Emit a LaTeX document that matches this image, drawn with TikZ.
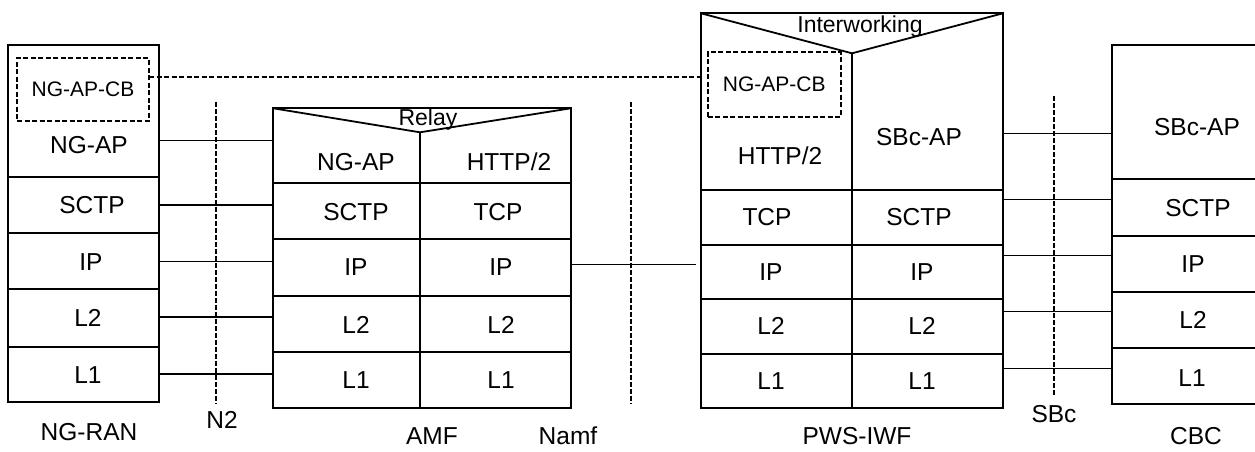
\documentclass[tikz,border=0pt]{standalone}
\usepackage{fontspec}
\setmainfont{Liberation Sans}
\tikzset{
  cell/.style={draw, line width=1.8pt, rectangle, inner sep=0pt, outer sep=0pt, anchor=north west},
  cbbox/.style={draw, line width=2pt, dash pattern=on 5pt off 2.5pt, rectangle, inner sep=0pt, outer sep=0pt, anchor=north west},
  txt/.style={font=\fontsize{24.5}{28}\selectfont, inner sep=0pt},
  small/.style={font=\fontsize{21}{24}\selectfont, inner sep=0pt},
  vtxt/.style={font=\fontsize{23}{26}\selectfont, inner sep=0pt},
  conn/.style={line width=1.3pt},
  peer/.style={line width=2pt, dash pattern=on 5pt off 2.5pt},
  refline/.style={line width=1.7pt, dash pattern=on 5pt off 2pt},
  divider/.style={line width=1.8pt}
}
\newcommand{\mkcell}[5]{\node[cell, minimum width={(#4-#2)*1pt}, minimum height={(#5-#3)*1pt}] (#1) at (#2,#3) {};}
\newcommand{\mkcb}[5]{\node[cbbox, minimum width={(#4-#2)*1pt}, minimum height={(#5-#3)*1pt}] (#1) at (#2,#3) {};}
\begin{document}
\begin{tikzpicture}[x=1pt,y=-1pt]
\useasboundingbox (0,0) rectangle (1255,451);
\clip (0,0) rectangle (1255,451);

% ---------- NG-RAN ----------
\mkcell{ranAP}{8}{45}{159}{176.7}
\mkcell{ranSCTP}{8}{176.7}{159}{233.3}
\mkcell{ranIP}{8}{233.3}{159}{289.3}
\mkcell{ranLtwo}{8}{289.3}{159}{346.7}
\mkcell{ranLone}{8}{346.7}{159}{402}
\mkcb{ranCB}{17}{58.3}{149}{120.7}
\node[small] (tRanCB) at (ranCB.center) {NG-AP-CB};
\node[txt] (tRanAP) at (89,145) {NG-AP};
\node[txt] (tRanSCTP) at (92,205) {SCTP};
\node[txt] (tRanIP) at (91,262) {IP};
\node[txt] (tRanLtwo) at (88,318) {L2};
\node[txt] (tRanLone) at (88,375) {L1};
\node[txt] (lRan) at (89,432) {NG-RAN};

% ---------- AMF ----------
\mkcell{amfTop}{273.3}{108.3}{570.7}{182.7}
\coordinate (amfV) at (420,132.3);
\draw[divider] (amfTop.north west) -- (amfV) -- (amfTop.north east);
\draw[divider] (amfV) -- (amfV |- amfTop.south);
\mkcell{amfSCTP}{273.3}{182.7}{420}{239.3}
\mkcell{amfTCP}{420}{182.7}{570.7}{239.3}
\mkcell{amfIPl}{273.3}{239.3}{420}{296}
\mkcell{amfIPr}{420}{239.3}{570.7}{296}
\mkcell{amfLtwol}{273.3}{296}{420}{352}
\mkcell{amfLtwor}{420}{296}{570.7}{352}
\mkcell{amfLonel}{273.3}{352}{420}{407.7}
\mkcell{amfLoner}{420}{352}{570.7}{407.7}
\node[vtxt] (tRelay) at (428,120) {Relay};
\node[txt] (tAmfAP) at (356,162) {NG-AP};
\node[txt] (tAmfHT) at (509,162) {HTTP/2};
\node[txt] (tAmfSCTP) at (356,212) {SCTP};
\node[txt] (tAmfTCP) at (498,212) {TCP};
\node[txt] (tAmfIPl) at (356,267) {IP};
\node[txt] (tAmfIPr) at (501,267) {IP};
\node[txt] (tAmfLtwol) at (356,325) {L2};
\node[txt] (tAmfLtwor) at (501,325) {L2};
\node[txt] (tAmfLonel) at (356,380) {L1};
\node[txt] (tAmfLoner) at (501,380) {L1};
\node[txt] (lAmf) at (432,436) {AMF};

% ---------- PWS-IWF ----------
\mkcell{pwsTop}{701}{13.3}{1003}{190}
\coordinate (pwsV) at (852,53.3);
\draw[divider] (pwsTop.north west) -- (pwsV) -- (pwsTop.north east);
\draw[divider] (pwsV) -- (pwsV |- pwsTop.south);
\mkcell{pwsTCP}{701}{190}{852}{245}
\mkcell{pwsSCTP}{852}{190}{1003}{245}
\mkcell{pwsIPl}{701}{245}{852}{299}
\mkcell{pwsIPr}{852}{245}{1003}{299}
\mkcell{pwsLtwol}{701}{299}{852}{354}
\mkcell{pwsLtwor}{852}{299}{1003}{354}
\mkcell{pwsLonel}{701}{354}{852}{408}
\mkcell{pwsLoner}{852}{354}{1003}{408}
\mkcb{pwsCB}{707.7}{52.3}{840.7}{116.7}
\node[small] (tPwsCB) at (pwsCB.center) {NG-AP-CB};
\node[vtxt] (tInter) at (860,27) {Interworking};
\node[txt] (tPwsHT) at (780,156) {HTTP/2};
\node[txt] (tPwsSB) at (919,137) {SBc-AP};
\node[txt] (tPwsTCP) at (767,217) {TCP};
\node[txt] (tPwsSCTP) at (919,217) {SCTP};
\node[txt] (tPwsIPl) at (771,272) {IP};
\node[txt] (tPwsIPr) at (922,272) {IP};
\node[txt] (tPwsLtwol) at (771,326) {L2};
\node[txt] (tPwsLtwor) at (922,326) {L2};
\node[txt] (tPwsLonel) at (771,381) {L1};
\node[txt] (tPwsLoner) at (922,381) {L1};
\node[txt] (lPws) at (857,436) {PWS-IWF};

% ---------- CBC ----------
\mkcell{cbcAP}{1112.3}{45}{1275}{179}
\mkcell{cbcSCTP}{1112.3}{179}{1275}{235.7}
\mkcell{cbcIP}{1112.3}{235.7}{1275}{291.7}
\mkcell{cbcLtwo}{1112.3}{291.7}{1275}{348.3}
\mkcell{cbcLone}{1112.3}{348.3}{1275}{404}
\node[txt] (tCbcAP) at (1197,127) {SBc-AP};
\node[txt] (tCbcSCTP) at (1198,208) {SCTP};
\node[txt] (tCbcIP) at (1193,264) {IP};
\node[txt] (tCbcLtwo) at (1193,320) {L2};
\node[txt] (tCbcLone) at (1192,378) {L1};
\node[txt] (lCbc) at (1196,436) {CBC};

% ---------- reference points ----------
\coordinate (nTwoTop) at (216,101.7);
\coordinate (nTwoBot) at (216,403);
\coordinate (namfTop) at (631,101.7);
\coordinate (namfBot) at (631,403.3);
\coordinate (sbcTop) at (1054.3,96);
\coordinate (sbcBot) at (1054.3,396.7);
\draw[refline] (nTwoTop) -- (nTwoBot);
\draw[refline] (namfTop) -- (namfBot);
\draw[refline] (sbcTop) -- (sbcBot);
\node[txt] (lNtwo) at (222,420) {N2};
\node[txt] (lNamf) at (568,436) {Namf};
\node[txt] (lSbc) at (1054,414) {SBc};

% ---------- connectors ----------
\draw[peer] (ranCB.east |- 0,76.7) -- (pwsTop.west |- 0,76.7);
\draw[conn] (ranAP.east |- 0,140.7) -- (amfTop.west |- 0,140.7);
\draw[conn] (ranSCTP.east |- 0,205) -- (amfSCTP.west |- 0,205);
\draw[conn] (ranIP.east |- 0,261.7) -- (amfIPl.west |- 0,261.7);
\draw[conn] (ranLtwo.east |- 0,317) -- (amfLtwol.west |- 0,317);
\draw[conn] (ranLone.east |- 0,374) -- (amfLonel.west |- 0,374);
\draw[conn] (amfIPr.east |- 0,264.3) -- ([xshift=-5pt]pwsIPl.west |- 0,264.3);
\draw[conn] (pwsTop.east |- 0,133.3) -- (cbcAP.west |- 0,133.3);
\draw[conn] (pwsSCTP.east |- 0,199.3) -- (cbcSCTP.west |- 0,199.3);
\draw[conn] (pwsIPr.east |- 0,255.7) -- (cbcIP.west |- 0,255.7);
\draw[conn] (pwsLtwor.east |- 0,311.7) -- (cbcLtwo.west |- 0,311.7);
\draw[conn] (pwsLoner.east |- 0,368.3) -- (cbcLone.west |- 0,368.3);
\end{tikzpicture}
\end{document}
